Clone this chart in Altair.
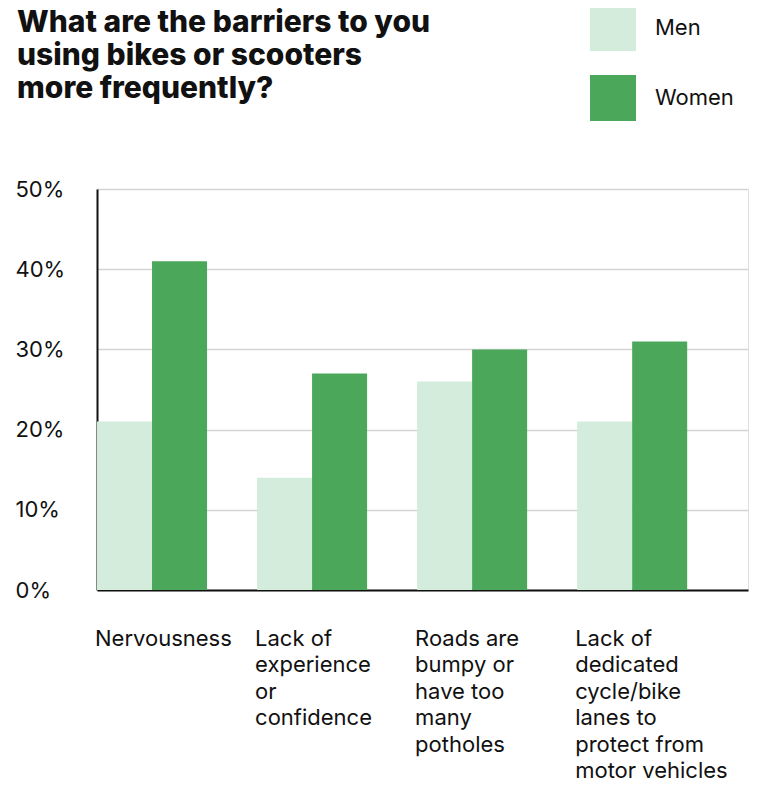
import altair as alt
import pandas as pd

categories = [
    "Nervousness",
    "Lack of\nexperience\nor\nconfidence",
    "Roads are\nbumpy or\nhave too\nmany\npotholes",
    "Lack of\ndedicated\ncycle/bike\nlanes to\nprotect from\nmotor vehicles",
]
men = [21, 14, 26, 21]
women = [41, 27, 30, 31]
groups = ["Men", "Women"]
colors = ["#d3ecdc", "#4ba85a"]
y_ticks = [0, 10, 20, 30, 40, 50]
title_lines = [
    "What are the barriers to you",
    "using bikes or scooters",
    "more frequently?",
]

rows = []
for c, m, w in zip(categories, men, women):
    rows.append({"barrier": c, "gender": "Men", "pct": m})
    rows.append({"barrier": c, "gender": "Women", "pct": w})
df = pd.DataFrame(rows)

FONT = "Inter"
TXT = "#111111"

chart = alt.Chart(df).mark_bar().encode(
    x=alt.X(
        "barrier:N", sort=categories, title=None,
        scale=alt.Scale(paddingInner=0.3125, paddingOuter=0.19, align=0),
        axis=alt.Axis(
            labelAngle=0, labelAlign="left", labelBaseline="top",
            labelPadding=38, labelOffset=-57, labelExpr="split(datum.label, '\\n')",
            labelFontSize=22, labelLineHeight=26.5, labelColor=TXT, labelFont=FONT,
            domainColor=TXT, domainWidth=2, ticks=False, labelLimit=0, grid=False,
        ),
    ),
    xOffset=alt.XOffset("gender:N", sort=groups,
                        scale=alt.Scale(paddingInner=0, paddingOuter=0)),
    y=alt.Y(
        "pct:Q", title=None, scale=alt.Scale(domain=[0, 50]),
        axis=alt.Axis(
            values=y_ticks, labelExpr="datum.value + '%'", labelAlign="left",
            labelBaseline="middle", labelPadding=82, labelFontSize=22,
            labelColor=TXT, labelFont=FONT, ticks=False,
            domainColor=TXT, domainWidth=2,
            grid=True, gridColor="#d4d4d4", gridWidth=1.5,
        ),
    ),
    color=alt.Color(
        "gender:N", sort=groups,
        scale=alt.Scale(domain=groups, range=colors),
        legend=alt.Legend(
            orient="none", legendX=493, legendY=-184, title=None,
            symbolType="square", symbolSize=2116, symbolStrokeWidth=0,
            symbolOpacity=1, labelFontSize=22, labelFont=FONT, labelColor=TXT,
            labelOffset=19, rowPadding=24, padding=0,
        ),
    ),
).properties(
    width=651, height=401,
    title=alt.TitleParams(
        text=title_lines, anchor="start", frame="group", dx=-80,
        fontSize=30, fontWeight=800, lineHeight=33, offset=-99,
        font=FONT, color=TXT,
    ),
    autosize=alt.AutoSizeParams(type="none"),
    padding={"left": 89, "top": 181, "right": 5, "bottom": 192},
).configure_view(stroke=None).configure(background="white")

chart.save("out.html", embed_options={"renderer": "svg", "actions": False})
